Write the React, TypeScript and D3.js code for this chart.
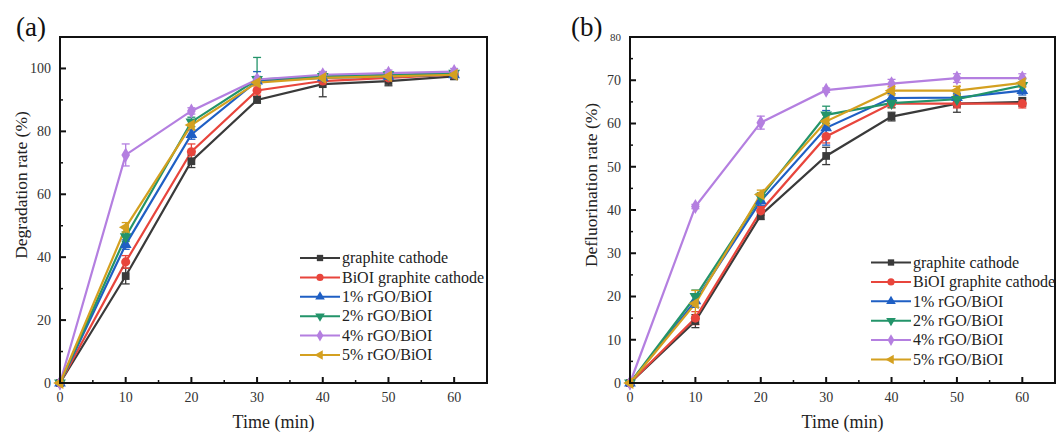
import React from "react";
import * as d3 from "d3";

// Sampling times (min)
const time = [0, 10, 20, 30, 40, 50, 60];

const seriesNames = [
  "graphite cathode",
  "BiOI graphite cathode",
  "1% rGO/BiOI",
  "2% rGO/BiOI",
  "4% rGO/BiOI",
  "5% rGO/BiOI",
];
const seriesColors = ["#3a3a3a", "#e8453c", "#1f5fc4", "#23946a", "#b47fe0", "#d4a020"];
const seriesShapes = ["square", "circle", "triUp", "triDown", "diamond", "triLeft"];

// (a) Degradation rate (%)
const degGraphite = [0, 34, 70.5, 90, 95, 96, 97.5];
const degBiOI = [0, 38.5, 73.5, 93, 96, 97, 98];
const deg1 = [0, 44, 79, 96, 97, 97.5, 98];
const deg2 = [0, 46.5, 83, 96.5, 97.5, 98, 98.5];
const deg4 = [0, 72.5, 86.5, 96.5, 98, 98.5, 99];
const deg5 = [0, 49.5, 82, 95.5, 97, 97.5, 98];
const degErrGraphite = [0, 2.5, 2, 1, 4, 1.5, 1];
const degErrBiOI = [0, 2, 2.5, 1.5, 1, 1, 0.5];
const degErr1 = [0, 1.5, 1.5, 3, 1, 1, 0.5];
const degErr2 = [0, 1.5, 1.5, 7, 1, 1, 0.5];
const degErr4 = [0, 3.5, 1, 1, 1, 1, 1];
const degErr5 = [0, 1.5, 1.5, 1, 1, 1, 0.5];

// (b) Defluorination rate (%)
const defGraphite = [0, 14.3, 38.8, 52.5, 61.6, 64.6, 65];
const defBiOI = [0, 15, 39.8, 57, 64.6, 64.6, 64.6];
const def1 = [0, 19, 42.1, 59, 65.9, 66, 67.6];
const def2 = [0, 20, 43, 62, 64.7, 65.6, 68.8];
const def4 = [0, 40.8, 60.2, 67.7, 69.2, 70.5, 70.5];
const def5 = [0, 18.4, 43.6, 60.5, 67.6, 67.6, 69.4];
const defErrGraphite = [0, 1.5, 1, 2, 1, 2, 1];
const defErrBiOI = [0, 1.5, 1, 1.5, 1, 1, 1];
const defErr1 = [0, 1.5, 1, 4, 1, 1, 1];
const defErr2 = [0, 1.5, 1, 2, 1, 1, 1.5];
const defErr4 = [0, 0.5, 1.5, 0.5, 1, 1, 1];
const defErr5 = [0, 3, 1, 1.5, 1, 1, 1];

const xTicks = [0, 10, 20, 30, 40, 50, 60];
const degTicks = [0, 20, 40, 60, 80, 100];
const defTicks = [0, 10, 20, 30, 40, 50, 60, 70, 80];

const FONT = "'Liberation Serif', 'Times New Roman', serif";

function markerPath(shape: string, s: number) {
  const sym: Record<string, d3.SymbolType> = {
    square: d3.symbolSquare,
    circle: d3.symbolCircle,
    triUp: d3.symbolTriangle,
    triDown: d3.symbolTriangle,
    diamond: d3.symbolDiamond,
    triLeft: d3.symbolTriangle,
  };
  return d3.symbol(sym[shape], s)();
}
function markerRotate(shape: string) {
  if (shape === "triDown") return 180;
  if (shape === "triLeft") return -90;
  return 0;
}
function markerSize(shape: string) {
  if (shape === "diamond") return 65;
  if (shape === "circle") return 65;
  return 60;
}

type PanelProps = {
  left: number;
  right: number;
  top: number;
  bottom: number;
  yMax: number;
  yTicks: number[];
  yMinorStep: number;
  values: number[][];
  errors: number[][];
  yLabel: string;
  panelTag: string;
  tagX: number;
  legendX: number;
  legendY: number;
};

function Panel(p: PanelProps) {
  const x = d3.scaleLinear().domain([0, 65]).range([p.left, p.right]);
  const y = d3.scaleLinear().domain([0, p.yMax]).range([p.bottom, p.top]);
  const line = d3
    .line<number>()
    .x((_, i) => x(time[i]))
    .y((d) => y(d));
  const minorY = d3.range(p.yMinorStep, p.yMax, p.yMinorStep * 2);
  const minorX = d3.range(5, 65, 10);
  return (
    <g fontFamily={FONT}>
      {/* series lines */}
      {p.values.map((v, k) => (
        <path key={"l" + k} d={line(v) || ""} fill="none" stroke={seriesColors[k]} strokeWidth={2.2} />
      ))}
      {/* error bars */}
      {p.values.map((v, k) =>
        v.map((d, i) => {
          const e = p.errors[k][i];
          if (!e) return null;
          const cx = x(time[i]);
          return (
            <g key={"e" + k + "-" + i} stroke={seriesColors[k]} strokeWidth={1.3}>
              <line x1={cx} x2={cx} y1={y(d - e)} y2={y(d + e)} />
              <line x1={cx - 4} x2={cx + 4} y1={y(d - e)} y2={y(d - e)} />
              <line x1={cx - 4} x2={cx + 4} y1={y(d + e)} y2={y(d + e)} />
            </g>
          );
        })
      )}
      {/* markers */}
      {p.values.map((v, k) =>
        v.map((d, i) => (
          <path
            key={"m" + k + "-" + i}
            d={markerPath(seriesShapes[k], markerSize(seriesShapes[k])) || ""}
            transform={`translate(${x(time[i])},${y(d)}) rotate(${markerRotate(seriesShapes[k])})`}
            fill={seriesColors[k]}
          />
        ))
      )}
      {/* frame */}
      <rect
        x={p.left}
        y={p.top}
        width={p.right - p.left}
        height={p.bottom - p.top}
        fill="none"
        stroke="#111"
        strokeWidth={2}
      />
      {/* x ticks */}
      {xTicks.map((t) => (
        <g key={"xt" + t}>
          <line x1={x(t)} x2={x(t)} y1={p.bottom} y2={p.bottom - 6} stroke="#111" strokeWidth={2} />
          <text x={x(t)} y={p.bottom + 19} textAnchor="middle" fontSize={14} fill="#333">
            {t}
          </text>
        </g>
      ))}
      {minorX.map((t) => (
        <line key={"xm" + t} x1={x(t)} x2={x(t)} y1={p.bottom} y2={p.bottom - 3} stroke="#111" strokeWidth={1.5} />
      ))}
      {/* y ticks */}
      {p.yTicks.map((t) => (
        <g key={"yt" + t}>
          <line x1={p.left} x2={p.left + 6} y1={y(t)} y2={y(t)} stroke="#111" strokeWidth={2} />
          <text
            x={p.left - 9}
            y={y(t)}
            dy="0.35em"
            textAnchor="end"
            fontSize={t === p.yMax ? 11 : 14}
            fill="#333"
          >
            {t}
          </text>
        </g>
      ))}
      {minorY.map((t) => (
        <line key={"ym" + t} x1={p.left} x2={p.left + 3} y1={y(t)} y2={y(t)} stroke="#111" strokeWidth={1.5} />
      ))}
      {/* axis titles */}
      <text
        x={(p.left + p.right) / 2}
        y={p.bottom + 45}
        textAnchor="middle"
        fontSize={18}
        fill="#222"
      >
        Time (min)
      </text>
      <text
        transform={`translate(${p.left - 33},${(p.top + p.bottom) / 2 - 25}) rotate(-90)`}
        textAnchor="middle"
        fontSize={17.5}
        fill="#222"
      >
        {p.yLabel}
      </text>
      <text x={p.tagX} y={36} fontSize={27} fill="#111">
        {p.panelTag}
      </text>
      {/* legend */}
      {seriesNames.map((name, k) => {
        const ly = p.legendY + k * 19.4;
        return (
          <g key={"lg" + k}>
            <line x1={p.legendX} x2={p.legendX + 40} y1={ly} y2={ly} stroke={seriesColors[k]} strokeWidth={2} />
            <path
              d={markerPath(seriesShapes[k], 40) || ""}
              transform={`translate(${p.legendX + 20},${ly}) rotate(${markerRotate(seriesShapes[k])})`}
              fill={seriesColors[k]}
            />
            <text x={p.legendX + 42} y={ly} dy="0.33em" fontSize={16} fill="#222">
              {name}
            </text>
          </g>
        );
      })}
    </g>
  );
}

export default function App() {
  return (
    <svg width={1058} height={433} style={{ position: "absolute", left: 0, top: 0, background: "#fff" }}>
      <rect width={1058} height={433} fill="#fff" />
      <Panel
        left={60}
        right={487}
        top={37}
        bottom={383}
        yMax={110}
        yTicks={degTicks}
        yMinorStep={10}
        values={[degGraphite, degBiOI, deg1, deg2, deg4, deg5]}
        errors={[degErrGraphite, degErrBiOI, degErr1, degErr2, degErr4, degErr5]}
        yLabel="Degradation rate (%)"
        panelTag="(a)"
        tagX={16}
        legendX={300}
        legendY={258}
      />
      <Panel
        left={630}
        right={1055}
        top={37}
        bottom={383}
        yMax={80}
        yTicks={defTicks}
        yMinorStep={5}
        values={[defGraphite, defBiOI, def1, def2, def4, def5]}
        errors={[defErrGraphite, defErrBiOI, defErr1, defErr2, defErr4, defErr5]}
        yLabel="Defluorination rate (%)"
        panelTag="(b)"
        tagX={571}
        legendX={871}
        legendY={262.5}
      />
    </svg>
  );
}
